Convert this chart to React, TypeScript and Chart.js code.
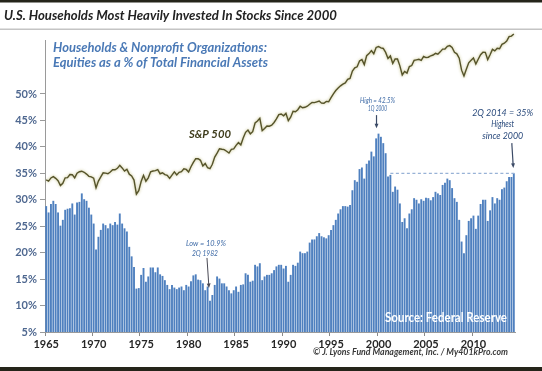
import React, { useEffect, useRef } from 'react';
import { Chart, registerables } from 'chart.js';

Chart.register(...registerables);

// ---------- data ----------
const FIRST_YEAR = 1965;
const LAST_YEAR = 2014;
const LAST_QUARTER = 2;

const quarterLabels: string[] = [];
for (let yr = FIRST_YEAR; yr <= LAST_YEAR; yr++) {
  for (let q = 1; q <= 4; q++) {
    if (yr === LAST_YEAR && q > LAST_QUARTER) break;
    quarterLabels.push(`${q}Q ${yr}`);
  }
}

// Households & nonprofits: equities as % of total financial assets (quarterly)
const equityShare = [
  28.8, 27.6, 29.2, 29.8, // 1965
  29.2, 27.6, 25.1, 26.2, // 1966
  28.1, 28.3, 28.4, 29.3, // 1967
  27.2, 29.5, 29.6, 31.2, // 1968
  30.1, 29.8, 28.5, 27.2, // 1969
  25.5, 20.6, 23.0, 24.3, // 1970
  25.5, 25.2, 24.6, 25.5, // 1971
  25.2, 25.8, 25.3, 27.4, // 1972
  25.5, 24.6, 24.0, 21.1, // 1973
  19.3, 17.3, 13.2, 13.3, // 1974
  15.8, 17.1, 14.5, 15.5, // 1975
  17.2, 17.2, 16.3, 17.2, // 1976
  15.9, 15.6, 14.8, 13.9, // 1977
  13.1, 13.9, 13.4, 13.1, // 1978
  13.4, 13.6, 12.9, 13.9, // 1979
  13.6, 14.6, 15.7, 15.9, // 1980
  14.9, 14.8, 14.2, 12.9, // 1981
  13.6, 10.9, 12.0, 13.9, // 1982
  15.5, 15.1, 14.2, 14.2, // 1983
  13.6, 12.9, 12.3, 12.9, // 1984
  13.6, 12.6, 13.9, 14.0, // 1985
  16.1, 15.8, 14.5, 14.7, // 1986
  17.7, 17.4, 18.0, 14.8, // 1987
  15.5, 15.8, 15.8, 16.1, // 1988
  16.7, 17.4, 17.7, 17.7, // 1989
  17.0, 17.5, 14.5, 15.8, // 1990
  17.7, 17.5, 18.1, 20.2, // 1991
  19.9, 19.9, 20.2, 21.9, // 1992
  22.5, 22.5, 23.1, 23.7, // 1993
  23.1, 22.9, 22.7, 23.3, // 1994
  24.3, 25.2, 26.2, 27.4, // 1995
  28.2, 28.8, 28.8, 28.7, // 1996
  29.0, 31.8, 33.7, 33.4, // 1997
  35.8, 36.1, 34.0, 36.8, // 1998
  37.4, 39.1, 38.2, 41.6, // 1999
  42.5, 41.9, 40.7, 38.8, // 2000
  34.4, 34.7, 31.5, 32.5, // 2001
  31.9, 29.3, 25.8, 26.5, // 2002
  24.6, 27.4, 28.2, 30.3, // 2003
  30.0, 29.3, 30.1, 29.8, // 2004
  30.4, 30.3, 29.9, 30.5, // 2005
  31.5, 31.2, 30.9, 32.8, // 2006
  33.2, 34.0, 33.7, 32.2, // 2007
  30.3, 29.6, 26.2, 22.1, // 2008
  19.9, 23.3, 26.0, 26.5, // 2009
  27.0, 24.5, 27.0, 29.2, // 2010
  30.0, 30.0, 26.0, 28.0, // 2011
  30.5, 29.3, 30.3, 30.0, // 2012
  32.0, 32.3, 33.5, 34.3, // 2013
  34.3, 35.0,             // 2014
];

// S&P 500 quarter-end closes
const sp500 = [
  86.16, 84.12, 89.96, 92.43,
  89.23, 84.74, 76.56, 80.33,
  90.2, 90.64, 96.71, 96.47,
  90.2, 99.58, 102.67, 103.86,
  101.51, 97.71, 93.12, 92.06,
  89.63, 72.72, 84.21, 92.15,
  100.31, 99.7, 98.34, 102.09,
  107.2, 107.14, 110.55, 118.05,
  111.52, 104.26, 108.43, 97.55,
  93.98, 86.0, 63.54, 68.56,
  83.36, 95.19, 83.87, 90.19,
  102.77, 104.28, 105.24, 107.46,
  98.42, 100.48, 96.53, 95.1,
  89.21, 95.53, 102.54, 96.11,
  101.59, 102.91, 109.32, 107.94,
  102.09, 114.24, 125.46, 135.76,
  136.0, 131.21, 116.18, 122.55,
  111.96, 109.61, 120.42, 140.64,
  152.96, 168.11, 166.07, 164.93,
  159.18, 153.18, 166.1, 167.24,
  180.66, 191.85, 182.08, 211.28,
  238.9, 250.84, 231.32, 242.17,
  291.7, 304.0, 321.83, 247.08,
  258.89, 273.5, 271.91, 277.72,
  294.87, 317.98, 349.15, 353.4,
  339.94, 358.02, 306.05, 330.22,
  375.22, 371.16, 387.86, 417.09,
  403.69, 408.14, 417.8, 435.71,
  451.67, 450.53, 458.93, 466.45,
  445.77, 444.27, 462.69, 459.27,
  500.71, 544.75, 584.41, 615.93,
  645.5, 670.63, 687.31, 740.74,
  757.12, 885.14, 947.28, 970.43,
  1101.75, 1133.84, 1017.01, 1229.23,
  1286.37, 1372.71, 1282.71, 1469.25,
  1498.58, 1454.6, 1436.51, 1320.28,
  1160.33, 1224.42, 1040.94, 1148.08,
  1147.39, 989.82, 815.28, 879.82,
  848.18, 974.5, 995.97, 1111.92,
  1126.21, 1140.84, 1114.58, 1211.92,
  1180.59, 1191.33, 1228.81, 1248.29,
  1294.83, 1270.2, 1335.85, 1418.3,
  1420.86, 1503.35, 1526.75, 1468.36,
  1322.7, 1280.0, 1166.36, 903.25,
  797.87, 919.32, 1057.08, 1115.1,
  1169.43, 1030.71, 1141.2, 1257.64,
  1325.83, 1320.64, 1131.42, 1257.6,
  1408.47, 1362.16, 1440.67, 1426.19,
  1569.19, 1606.28, 1681.55, 1848.36,
  1872.34, 1960.23,
];

const HIGH_INDEX = 140; // 1Q 2000
const LOW_INDEX = 69; // 2Q 1982
const LAST_INDEX = equityShare.length - 1; // 2Q 2014
const RECENT_LEVEL = 35;
const DASH_START_INDEX = 145;

// ---------- helpers ----------
function fitText(
  ctx: CanvasRenderingContext2D,
  text: string,
  x: number,
  cy: number,
  font: string,
  color: string,
  width?: number,
  align: 'left' | 'center' | 'right' = 'center'
) {
  ctx.save();
  ctx.font = font;
  ctx.fillStyle = color;
  ctx.textBaseline = 'middle';
  ctx.textAlign = 'left';
  const w = ctx.measureText(text).width;
  const tw = width ?? w;
  const sx = width ? width / w : 1;
  const left = align === 'center' ? x - tw / 2 : align === 'left' ? x : x - tw;
  ctx.translate(left, cy);
  ctx.scale(sx, 1);
  ctx.fillText(text, 0, 0);
  ctx.restore();
}

function arrow(
  ctx: CanvasRenderingContext2D,
  x1: number,
  y1: number,
  x2: number,
  y2: number,
  color: string,
  lw = 1.2,
  head = 6
) {
  const ang = Math.atan2(y2 - y1, x2 - x1);
  ctx.save();
  ctx.strokeStyle = color;
  ctx.fillStyle = color;
  ctx.lineWidth = lw;
  ctx.beginPath();
  ctx.moveTo(x1, y1);
  ctx.lineTo(x2 - Math.cos(ang) * head * 0.8, y2 - Math.sin(ang) * head * 0.8);
  ctx.stroke();
  ctx.beginPath();
  ctx.moveTo(x2, y2);
  ctx.lineTo(x2 - Math.cos(ang - 0.4) * head, y2 - Math.sin(ang - 0.4) * head);
  ctx.lineTo(x2 - Math.cos(ang + 0.4) * head, y2 - Math.sin(ang + 0.4) * head);
  ctx.closePath();
  ctx.fill();
  ctx.restore();
}

const FONT = 'Lato, "Open Sans", sans-serif';

const decorPlugin = {
  id: 'decor',
  beforeDraw(chart: any) {
    const { ctx, width, height } = chart;
    ctx.save();
    ctx.fillStyle = '#ffffff';
    ctx.fillRect(0, 0, width, height);
    ctx.restore();
  },
  beforeDatasetDraw(chart: any, args: any) {
    if (args.meta.type === 'line') {
      const ctx = chart.ctx;
      ctx.save();
      ctx.shadowColor = 'rgba(175,170,90,0.8)';
      ctx.shadowBlur = 3;
    }
  },
  afterDatasetDraw(chart: any, args: any) {
    if (args.meta.type === 'line') chart.ctx.restore();
  },
  afterDraw(chart: any) {
    const { ctx, width } = chart;
    const x = chart.scales.x;
    const y = chart.scales.y;
    const px = (i: number) => x.getPixelForValue(i);
    const py = (v: number) => y.getPixelForValue(v);

    // frame lines
    ctx.save();
    ctx.fillStyle = '#25251a';
    ctx.fillRect(0, 0, width, 2.5);
    ctx.fillRect(0, 367, width, 4);
    ctx.fillStyle = '#c4c4c4';
    ctx.fillRect(0, 28.5, width, 1.5);
    ctx.restore();

    // title
    fitText(ctx, 'U.S. Households Most Heavily Invested In Stocks Since 2000', 4, 15.5,
      `italic bold 14px ${FONT}`, '#222222', 333, 'left');
    // subtitle
    fitText(ctx, 'Households & Nonprofit Organizations:', 53, 48,
      `italic bold 13px ${FONT}`, '#4a79b6', 214, 'left');
    fitText(ctx, 'Equities as a % of Total Financial Assets', 53, 63,
      `italic bold 13px ${FONT}`, '#4a79b6', 215, 'left');

    // S&P 500 label
    fitText(ctx, 'S&P 500', px(69), py(42.4), `italic bold 12px ${FONT}`, '#3f3d1c', 42);

    // dashed reference line
    const yy = py(RECENT_LEVEL);
    ctx.save();
    ctx.setLineDash([3, 2.5]);
    ctx.strokeStyle = '#98b2d6';
    ctx.lineWidth = 1.2;
    ctx.beginPath();
    ctx.moveTo(px(DASH_START_INDEX), yy);
    ctx.lineTo(px(LAST_INDEX) + 1, yy);
    ctx.stroke();
    ctx.restore();

    // High annotation
    const hx = px(HIGH_INDEX);
    fitText(ctx, 'High = 42.5%', hx - 1, py(48.7), `italic 8px ${FONT}`, '#3e6aa6', 35);
    fitText(ctx, '1Q 2000', hx - 1, py(47.2), `italic 8px ${FONT}`, '#3e6aa6', 19);
    arrow(ctx, hx - 2, py(46.0), hx - 2, py(43.5), '#3b4a66', 1.2, 5);

    // Low annotation
    const lx = px(LOW_INDEX);
    fitText(ctx, 'Low = 10.9%', lx - 4, py(21.8), `italic 8px ${FONT}`, '#3e6aa6', 40);
    fitText(ctx, '2Q 1982', lx - 5, py(19.9), `italic 8px ${FONT}`, '#3e6aa6', 26);
    arrow(ctx, lx - 3, py(19.0), lx - 1, py(13.3), '#4a4a55', 1, 5);

    // Recent annotation
    const rx = px(192.3);
    fitText(ctx, '2Q 2014 = 35%', rx, py(46.4), `italic 10px ${FONT}`, '#2a4a7c', 61);
    fitText(ctx, 'Highest', rx, py(44.3), `italic 10px ${FONT}`, '#2a4a7c', 23);
    fitText(ctx, 'since 2000', rx, py(42.0), `italic 10px ${FONT}`, '#2a4a7c', 41);
    const ax = px(LAST_INDEX);
    arrow(ctx, ax - 2, py(40.7), ax - 0.5, py(36.0), '#3b4a66', 1.2, 5);

    // source
    fitText(ctx, 'Source: Federal Reserve', 385, 318, `bold 13px ${FONT}`, '#ffffff', 122, 'left');
    // copyright
    fitText(ctx, '\u00a9 J. Lyons Fund Management, Inc. / My401kPro.com', 508, 352.5,
      `italic bold 9px ${FONT}`, '#3a3a3a', 195, 'right');
  },
};

export default function App() {
  const ref = useRef<HTMLCanvasElement | null>(null);

  useEffect(() => {
    document.body.style.margin = '0';
    const canvas = ref.current;
    if (!canvas) return;
    const chart = new Chart(canvas, {
      data: {
        labels: quarterLabels,
        datasets: [
          {
            type: 'line',
            label: 'S&P 500',
            data: sp500,
            yAxisID: 'sp',
            borderColor: '#55532a',
            borderWidth: 1.4,
            pointRadius: 0,
            tension: 0,
            clip: false,
            order: 0,
          } as any,
          {
            type: 'bar',
            label: 'Equities as a % of Total Financial Assets',
            data: equityShare,
            yAxisID: 'y',
            backgroundColor: '#4f80bf',
            borderWidth: 0,
            barPercentage: 0.8,
            categoryPercentage: 1,
            order: 1,
          } as any,
        ],
      },
      options: {
        animation: false,
        responsive: false,
        devicePixelRatio: 1,
        layout: { padding: { top: 40, right: 27, left: 0, bottom: 0 } },
        plugins: {
          legend: { display: false },
          tooltip: { enabled: false },
          title: { display: false },
        },
        scales: {
          x: {
            type: 'category',
            offset: true,
            grid: {
              display: true,
              drawOnChartArea: false,
              drawTicks: true,
              tickLength: 4,
              offset: true,
              color: (c: any) => (c.index % 20 === 0 ? '#8a8a8a' : 'rgba(0,0,0,0)'),
            },
            border: { display: true, color: '#9a9a9a', width: 1 },
            ticks: {
              autoSkip: false,
              maxRotation: 0,
              minRotation: 0,
              padding: 2,
              color: '#262626',
              font: { family: FONT, size: 11, weight: 'bold' },
              callback: (_v: any, i: number) => {
                const lab = quarterLabels[i];
                if (!lab || !lab.startsWith('1Q')) return '';
                const yr = Number(lab.slice(3));
                return yr % 5 === 0 ? String(yr) : '';
              },
            },
            afterFit: (s: any) => {
              s.height = 39;
            },
          },
          y: {
            type: 'linear',
            position: 'left',
            min: 5,
            max: 60.2,
            ticks: {
              stepSize: 5,
              padding: 3,
              color: '#4f6890',
              font: { family: FONT, size: 11, weight: 'bold' },
              callback: (v: any) => `${v}%`,
            },
            afterBuildTicks: (s: any) => {
              s.ticks = s.ticks.filter((t: any) => t.value <= 50.001);
            },
            grid: { drawOnChartArea: false, drawTicks: true, tickLength: 5, color: '#9a9a9a' },
            border: { display: true, color: '#9a9a9a', width: 1 },
            afterFit: (s: any) => {
              s.width = 45;
            },
          },
          sp: {
            type: 'logarithmic',
            display: false,
            min: 3.33,
            max: 1722,
          },
        },
      } as any,
      plugins: [decorPlugin],
    });
    return () => chart.destroy();
  }, []);

  return (
    <div style={{ position: 'relative', width: 542, height: 371, overflow: 'hidden' }}>
      <canvas ref={ref} width={542} height={371} style={{ width: 542, height: 371, display: 'block' }} />
    </div>
  );
}
